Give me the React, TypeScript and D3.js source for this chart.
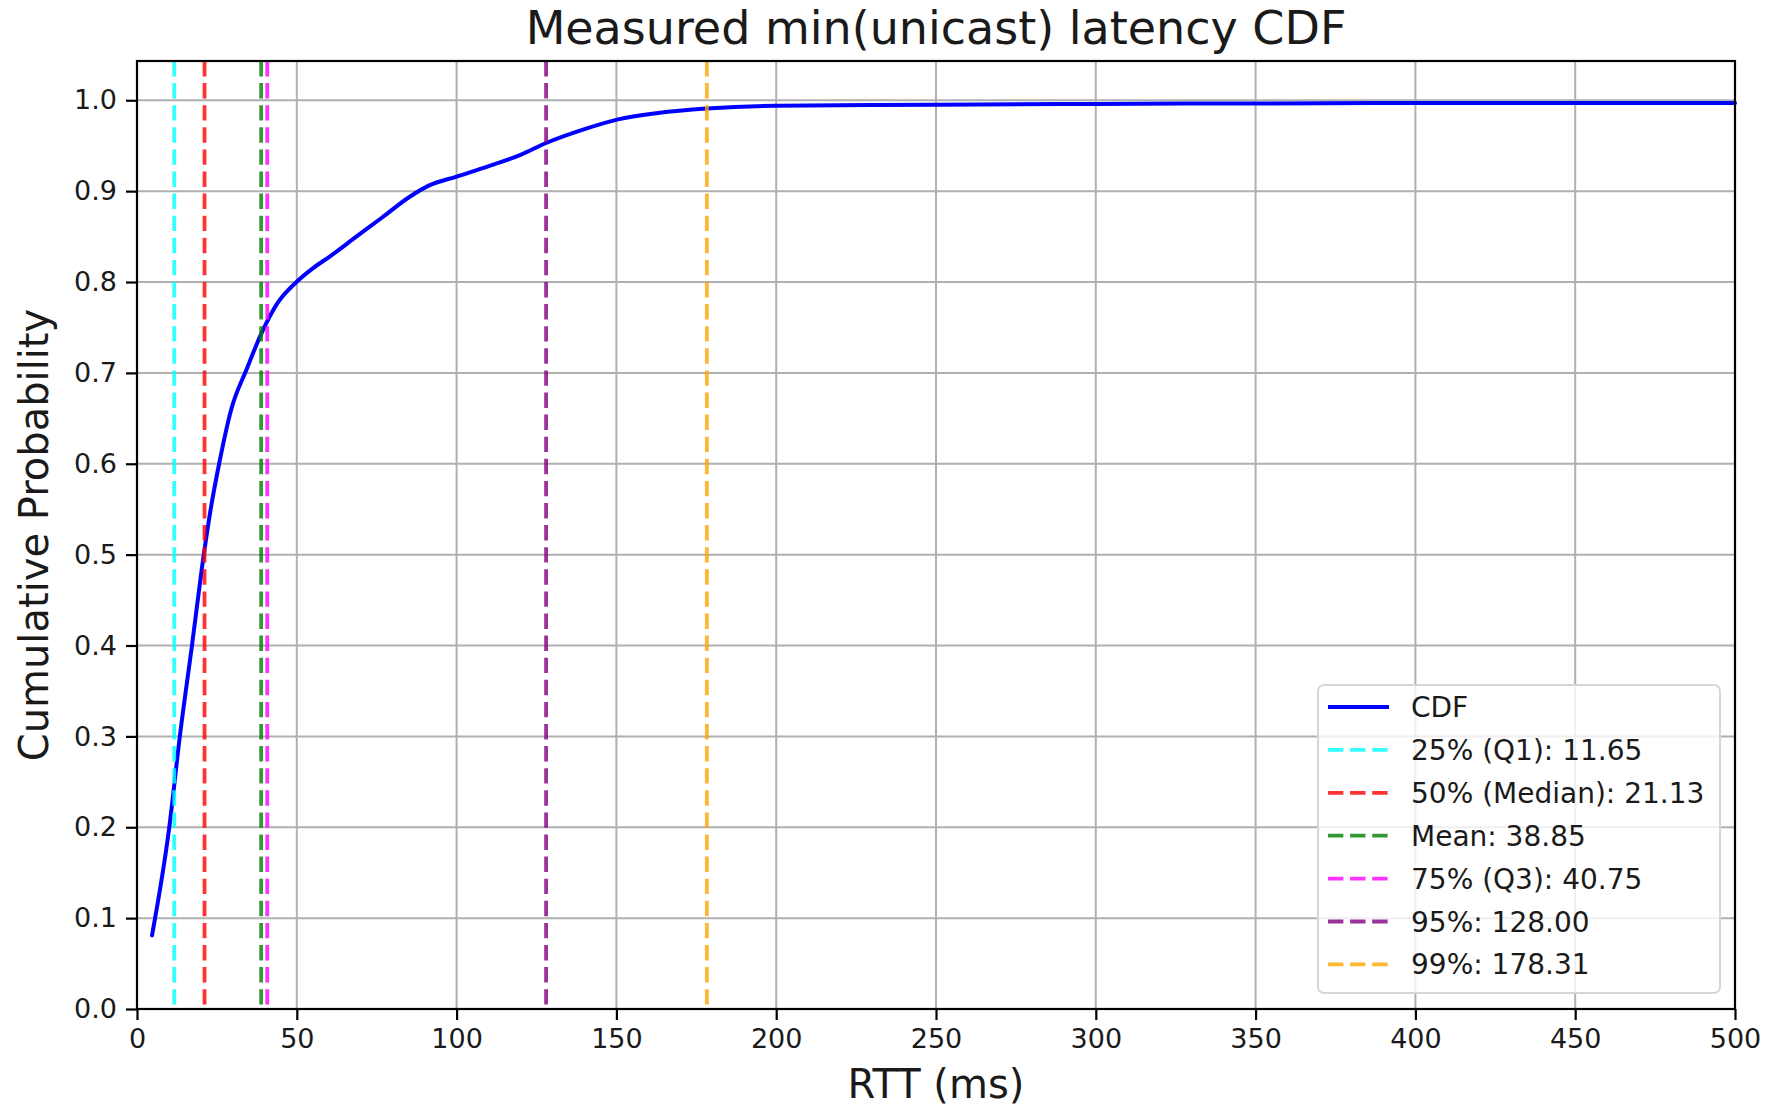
import React, { useRef, useEffect } from 'react';
import * as d3 from 'd3';

// RTT (ms) and cumulative probability
const rttValues = [
  4.7, 10.1, 13.4, 17.2, 20.9, 23.2, 25.7, 29.5, 34.3, 39.0, 44.0, 49.9, 55.0, 60.3,
  68.3, 76.7, 85.0, 91.3, 100.0, 110.5, 120.0, 128.0, 139.8, 150.5, 163.0, 178.3, 200.0,
  250.0, 300.0, 350.0, 400.0, 450.0, 500.0,
];
const cdfValues = [
  0.081, 0.2, 0.3, 0.4, 0.5, 0.553, 0.6, 0.66, 0.704, 0.744, 0.777, 0.8, 0.815, 0.828,
  0.849, 0.871, 0.893, 0.906, 0.916, 0.928, 0.94, 0.953, 0.968, 0.979, 0.986, 0.991,
  0.994, 0.995, 0.996, 0.9965, 0.997, 0.997, 0.997,
];

// Marker lines
const markerLabels = [
  '25% (Q1): 11.65',
  '50% (Median): 21.13',
  'Mean: 38.85',
  '75% (Q3): 40.75',
  '95%: 128.00',
  '99%: 178.31',
];
const markerValues = [11.65, 21.13, 38.85, 40.75, 128.0, 178.31];
const markerColors = ['cyan', 'red', 'green', 'magenta', 'purple', 'orange'];

const xTicks = [0, 50, 100, 150, 200, 250, 300, 350, 400, 450, 500];
const yTicks = [0, 0.1, 0.2, 0.3, 0.4, 0.5, 0.6, 0.7, 0.8, 0.9, 1.0];

const WIDTH = 1768;
const HEIGHT = 1106;
const FONT = 'DejaVu Sans, sans-serif';
const TEXT = '#1a1a1a';

export default function App() {
  const svgRef = useRef<SVGSVGElement>(null);

  useEffect(() => {
    if (!svgRef.current) return;
    const svg = d3.select(svgRef.current);
    svg.selectAll('*').remove();

    const margin = { top: 61, right: 33, bottom: 97, left: 137 };
    const innerWidth = WIDTH - margin.left - margin.right;
    const innerHeight = HEIGHT - margin.top - margin.bottom;

    const x = d3.scaleLinear().domain([0, 500]).range([0, innerWidth]);
    const y = d3.scaleLinear().domain([0, 1.0432]).range([innerHeight, 0]);

    const g = svg.append('g').attr('transform', `translate(${margin.left},${margin.top})`);

    // grid
    g.append('g')
      .selectAll('line')
      .data(xTicks)
      .enter()
      .append('line')
      .attr('x1', d => x(d))
      .attr('x2', d => x(d))
      .attr('y1', 0)
      .attr('y2', innerHeight)
      .attr('stroke', '#b0b0b0')
      .attr('stroke-width', 2);
    g.append('g')
      .selectAll('line')
      .data(yTicks)
      .enter()
      .append('line')
      .attr('x1', 0)
      .attr('x2', innerWidth)
      .attr('y1', d => y(d))
      .attr('y2', d => y(d))
      .attr('stroke', '#b0b0b0')
      .attr('stroke-width', 2);

    // CDF curve
    const points = rttValues.map((v, i) => [v, cdfValues[i]] as [number, number]);
    const line = d3
      .line<[number, number]>()
      .x(d => x(d[0]))
      .y(d => y(d[1]))
      .curve(d3.curveMonotoneX);
    g.append('path')
      .datum(points)
      .attr('d', line)
      .attr('fill', 'none')
      .attr('stroke', 'blue')
      .attr('stroke-width', 4)
      .attr('stroke-linecap', 'round');

    // percentile / mean lines
    g.append('g')
      .selectAll('line')
      .data(markerValues)
      .enter()
      .append('line')
      .attr('x1', d => x(d))
      .attr('x2', d => x(d))
      .attr('y1', 0)
      .attr('y2', innerHeight)
      .attr('stroke', (_, i) => markerColors[i])
      .attr('stroke-opacity', 0.8)
      .attr('stroke-width', 3.8)
      .attr('stroke-dasharray', '15.4,6.7');

    // frame
    g.append('rect')
      .attr('width', innerWidth)
      .attr('height', innerHeight)
      .attr('fill', 'none')
      .attr('stroke', 'black')
      .attr('stroke-width', 2.2);

    // axes
    const xAxis = g
      .append('g')
      .attr('transform', `translate(0,${innerHeight})`)
      .call(d3.axisBottom(x).tickValues(xTicks).tickSize(11).tickPadding(9).tickFormat(d3.format('d')));
    const yAxis = g
      .append('g')
      .call(d3.axisLeft(y).tickValues(yTicks).tickSize(11).tickPadding(9).tickFormat(d3.format('.1f')));
    [xAxis, yAxis].forEach(ax => {
      ax.select('.domain').remove();
      ax.selectAll('line').attr('stroke', 'black').attr('stroke-width', 2.2);
      ax.selectAll('text').attr('font-family', FONT).attr('font-size', 27).attr('fill', TEXT);
    });

    // title and axis labels
    svg.append('text')
      .attr('x', margin.left + innerWidth / 2)
      .attr('y', 44)
      .attr('text-anchor', 'middle')
      .attr('font-family', FONT)
      .attr('font-size', 46)
      .attr('fill', TEXT)
      .text('Measured min(unicast) latency CDF');
    svg.append('text')
      .attr('x', margin.left + innerWidth / 2)
      .attr('y', 1098)
      .attr('text-anchor', 'middle')
      .attr('font-family', FONT)
      .attr('font-size', 40)
      .attr('fill', TEXT)
      .text('RTT (ms)');
    svg.append('text')
      .attr('transform', `translate(48,${margin.top + innerHeight / 2}) rotate(-90)`)
      .attr('text-anchor', 'middle')
      .attr('font-family', FONT)
      .attr('font-size', 40)
      .attr('fill', TEXT)
      .text('Cumulative Probability');

    // legend
    const legend = svg.append('g').attr('transform', 'translate(1318,685)');
    legend.append('rect')
      .attr('width', 402)
      .attr('height', 308)
      .attr('rx', 6)
      .attr('fill', 'white')
      .attr('fill-opacity', 0.8)
      .attr('stroke', '#d6d6d6')
      .attr('stroke-width', 2);
    const entries = [
      { label: 'CDF', color: 'blue', dashed: false },
      ...markerLabels.map((label, i) => ({ label, color: markerColors[i], dashed: true })),
    ];
    const rowH = 42.9;
    const row = legend
      .selectAll('g.entry')
      .data(entries)
      .enter()
      .append('g')
      .attr('class', 'entry')
      .attr('transform', (_, i) => `translate(0,${22 + i * rowH})`);
    row.append('line')
      .attr('x1', 10)
      .attr('x2', 71)
      .attr('stroke', d => d.color)
      .attr('stroke-opacity', d => (d.dashed ? 0.8 : 1))
      .attr('stroke-width', d => (d.dashed ? 3.8 : 4))
      .attr('stroke-dasharray', d => (d.dashed ? '15.4,6.7' : null));
    row.append('text')
      .attr('x', 93)
      .attr('y', 10)
      .attr('font-family', FONT)
      .attr('font-size', 28)
      .attr('fill', TEXT)
      .text(d => d.label);
  }, []);

  return (
    <svg
      ref={svgRef}
      width={WIDTH}
      height={HEIGHT}
      style={{ position: 'absolute', left: 0, top: 0, background: 'white', display: 'block' }}
    />
  );
}
